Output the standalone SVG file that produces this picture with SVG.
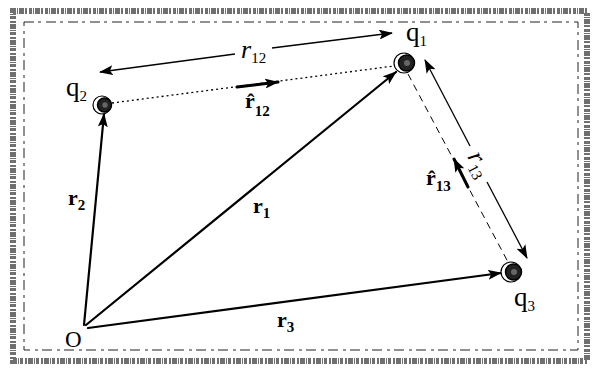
<svg xmlns="http://www.w3.org/2000/svg" width="594" height="371" viewBox="0 0 594 371">
<style>
.band{fill:none;stroke:#707070;stroke-width:6;stroke-dasharray:3 1 1 1 5 1 2 2}
.inner{fill:none;stroke:#222;stroke-width:1;stroke-dasharray:10 4 3 5}
.vec{fill:none;stroke:#000;stroke-width:2.2;stroke-linecap:round}
.thin{fill:none;stroke:#000;stroke-width:1.3}
.unit{fill:none;stroke:#000;stroke-width:3;stroke-linecap:round}
.dot{fill:none;stroke:#000;stroke-width:1.3;stroke-dasharray:2 3}
.dash{fill:none;stroke:#000;stroke-width:1;stroke-dasharray:7 5}
.lbl{font-family:"Liberation Serif",serif;fill:#000}
.b{font-weight:bold;font-size:22px}
.q{font-size:27px}
.s{font-size:15px}
.it{font-style:italic;font-size:26px}
.rim{fill:#fff;stroke:#000;stroke-width:1.2}
.core{fill:#222;stroke:#000;stroke-width:1.5}
.hi{fill:#666}
</style>
<defs>
<marker id="ah" viewBox="0 0 14 10" refX="13" refY="5" markerWidth="14" markerHeight="10" markerUnits="userSpaceOnUse" orient="auto-start-reverse">
<path d="M0,0 L14,5 L0,10 L3,5 z" fill="#000"/>
</marker>
</defs>
<rect class="band" x="13" y="11" width="574" height="350"/>
<rect class="inner" x="24" y="22" width="554" height="328"/>
<g id="connectors">
<line class="dot" x1="112" y1="103" x2="394" y2="66"/>
<line class="dash" x1="408" y1="74" x2="508" y2="262"/>
<line class="vec" x1="84" y1="325" x2="104" y2="114" marker-end="url(#ah)"/>
<line class="vec" x1="86" y1="325" x2="396" y2="72" marker-end="url(#ah)"/>
<line class="vec" x1="88" y1="328" x2="501" y2="273" marker-end="url(#ah)"/>
<line class="thin" x1="100" y1="72" x2="235" y2="54" marker-start="url(#ah)"/>
<line class="thin" x1="272" y1="48" x2="392" y2="33" marker-end="url(#ah)"/>
<line class="thin" x1="425" y1="60" x2="470" y2="146" marker-start="url(#ah)"/>
<line class="thin" x1="487" y1="182" x2="527" y2="258" marker-end="url(#ah)"/>
<line class="unit" x1="237" y1="87" x2="278" y2="82" marker-end="url(#ah)"/>
<line class="unit" x1="468" y1="187" x2="454" y2="159" marker-end="url(#ah)"/>
</g>
<g id="labels" class="lbl">
<text class="b" x="68" y="205">r<tspan class="s" dy="5">2</tspan></text>
<text class="b" x="253" y="213">r<tspan class="s" dy="5">1</tspan></text>
<text class="b" x="277" y="327">r<tspan class="s" dy="5">3</tspan></text>
<text class="b" x="245" y="108">r̂<tspan class="s" dy="8">12</tspan></text>
<text class="b" x="426" y="185">r̂<tspan class="s" dy="6">13</tspan></text>
<text class="it" x="241" y="58">r<tspan class="s" dy="5" font-style="normal">12</tspan></text>
<text class="it" transform="translate(476,163) rotate(62)" x="-10" y="5">r<tspan class="s" dy="5" font-style="normal">13</tspan></text>
</g>
<g id="O"><text class="lbl" font-size="23" x="65" y="347">O</text></g>
<g id="q1">
<circle class="rim" cx="404" cy="63" r="10"/>
<circle class="core" cx="406.5" cy="63" r="8"/>
<circle class="hi" cx="407" cy="63" r="3"/>
<text class="lbl q" x="406" y="41">q<tspan class="s" dy="5">1</tspan></text>
</g>
<g id="q2">
<circle class="rim" cx="102" cy="105" r="9"/>
<circle class="core" cx="104.5" cy="105" r="7"/>
<circle class="hi" cx="105" cy="105" r="2.7"/>
<text class="lbl q" x="66" y="96">q<tspan class="s" dy="5">2</tspan></text>
</g>
<g id="q3">
<circle class="rim" cx="511" cy="272" r="10"/>
<circle class="core" cx="513.5" cy="272" r="8"/>
<circle class="hi" cx="514" cy="272" r="3"/>
<text class="lbl q" x="514" y="306">q<tspan class="s" dy="5">3</tspan></text>
</g>
</svg>
